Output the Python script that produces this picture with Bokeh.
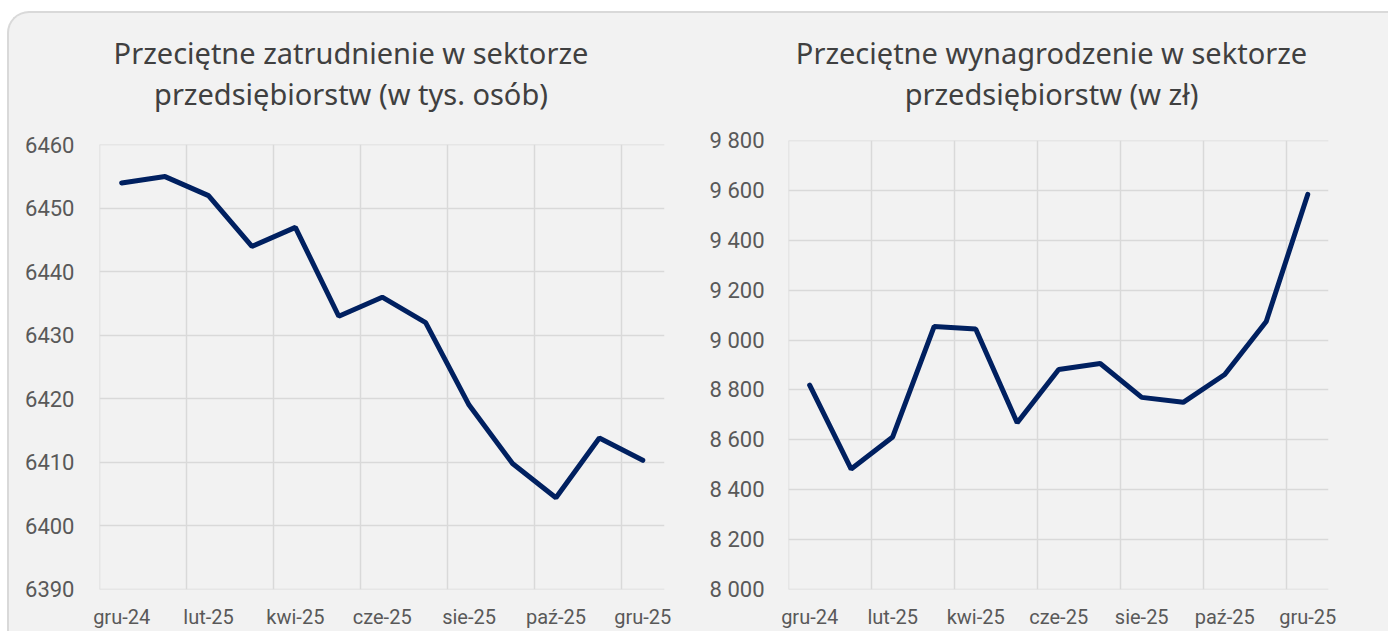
from bokeh.plotting import figure
from bokeh.layouts import row, column
from bokeh.models import FixedTicker, Label, Range1d
from bokeh.embed import file_html
from bokeh.resources import INLINE

# ---------------- data ----------------
months = ["gru-24", "sty-25", "lut-25", "mar-25", "kwi-25", "maj-25", "cze-25",
          "lip-25", "sie-25", "wrz-25", "paź-25", "lis-25", "gru-25"]
employment = [6454.0, 6455.0, 6452.0, 6444.0, 6447.0, 6433.0, 6436.0,
              6432.0, 6419.0, 6409.8, 6404.4, 6413.8, 6410.3]
wages = [8819, 8482, 8611, 9055, 9045, 8668, 8882,
         8906, 8770, 8750, 8862, 9075, 9585]
emp_ticks = [6390, 6400, 6410, 6420, 6430, 6440, 6450, 6460]
emp_tick_labels = ["6390", "6400", "6410", "6420", "6430", "6440", "6450", "6460"]
wage_ticks = [8000, 8200, 8400, 8600, 8800, 9000, 9200, 9400, 9600, 9800]
wage_tick_labels = ["8 000", "8 200", "8 400", "8 600", "8 800",
                    "9 000", "9 200", "9 400", "9 600", "9 800"]
emp_title = ["Przeciętne zatrudnienie w sektorze", "przedsiębiorstw (w tys. osób)"]
wage_title = ["Przeciętne wynagrodzenie w sektorze", "przedsiębiorstw (w zł)"]

TITLE_FONT = "Noto Sans"
TICK_FONT = "Roboto"
LINE_COLOR = "#002060"
GRID_COLOR = "#d9d9d9"
TITLE_H = 100


def make_title(lines, width, b_left, b_right, cx):
    # frame of the title strip is aligned with the chart frame below it (column layout)
    fw = width - b_left - b_right
    t = figure(width=width, height=TITLE_H, output_backend="svg", toolbar_location=None,
               title=None, x_range=Range1d(0, fw), y_range=Range1d(0, TITLE_H),
               x_axis_type=None, y_axis_type=None,
               min_border_left=b_left, min_border_right=b_right,
               min_border_top=0, min_border_bottom=0)
    t.background_fill_alpha = 0
    t.border_fill_alpha = 0
    t.outline_line_color = None
    t.grid.visible = False
    # baselines in pixels above the bottom of the strip's frame
    for txt, ty in zip(lines, (60.9, 19.7)):
        t.add_layout(Label(x=cx - b_left, y=ty, y_units="screen", text=txt,
                           text_align="center", text_baseline="alphabetic",
                           text_font=TITLE_FONT, text_font_size="29px",
                           text_color="#404040"))
    return t


def make_chart(values, yticks, ylabels, width, height,
               b_left, b_right, b_top, b_bottom, ystandoff):
    n = len(values)
    xs = list(range(n))
    ypad = (yticks[-1] - yticks[0]) * 0.0008
    p = figure(width=width, height=height, output_backend="svg", toolbar_location=None,
               x_range=Range1d(-0.51, n - 0.5),
               y_range=Range1d(yticks[0] - ypad, yticks[-1] + ypad),
               min_border_left=b_left, min_border_right=b_right,
               min_border_top=b_top, min_border_bottom=b_bottom)
    p.background_fill_alpha = 0
    p.border_fill_alpha = 0
    p.outline_line_color = None

    p.line(xs, values, line_color=LINE_COLOR, line_width=5, line_cap="round")

    shown = list(range(0, n, 2))
    p.xaxis.ticker = FixedTicker(ticks=shown)
    p.xaxis.major_label_overrides = {i: months[i] for i in shown}
    p.yaxis.ticker = FixedTicker(ticks=yticks)
    p.yaxis.major_label_overrides = {t: l for t, l in zip(yticks, ylabels)}

    for ax in (p.xaxis[0], p.yaxis[0]):
        ax.axis_line_color = None
        ax.major_tick_line_color = None
        ax.minor_tick_line_color = None
        ax.major_label_text_font = TICK_FONT
        ax.major_label_text_color = "#595959"
    p.xaxis.major_label_text_font_size = "20px"
    p.xaxis.major_label_standoff = 9
    p.yaxis.major_label_text_font_size = "22px"
    p.yaxis.major_label_standoff = ystandoff

    p.xgrid.ticker = FixedTicker(ticks=[i - 0.5 for i in shown])
    p.ygrid.ticker = FixedTicker(ticks=yticks)
    for g in (p.xgrid[0], p.ygrid[0]):
        g.grid_line_color = GRID_COLOR
        g.grid_line_width = 1.5
    return p


t1 = make_title(emp_title, 681, 90, 26, 341.5)
p1 = make_chart(employment, emp_ticks, emp_tick_labels,
                width=681, height=518, b_left=90, b_right=26, b_top=31, b_bottom=39,
                ystandoff=19)
t2 = make_title(wage_title, 698, 98, 60, 361)
p2 = make_chart(wages, wage_ticks, wage_tick_labels,
                width=698, height=518, b_left=98, b_right=60, b_top=27, b_bottom=39,
                ystandoff=18)

layout = row(column(t1, p1), column(t2, p2), margin=(11, 0, 0, 7),
             styles={"background-color": "#f2f2f2",
                     "border-top": "2px solid #d9d9d9",
                     "border-left": "2px solid #d9d9d9",
                     "border-top-left-radius": "22px"})

open("out.html", "w").write(file_html(layout, INLINE))
